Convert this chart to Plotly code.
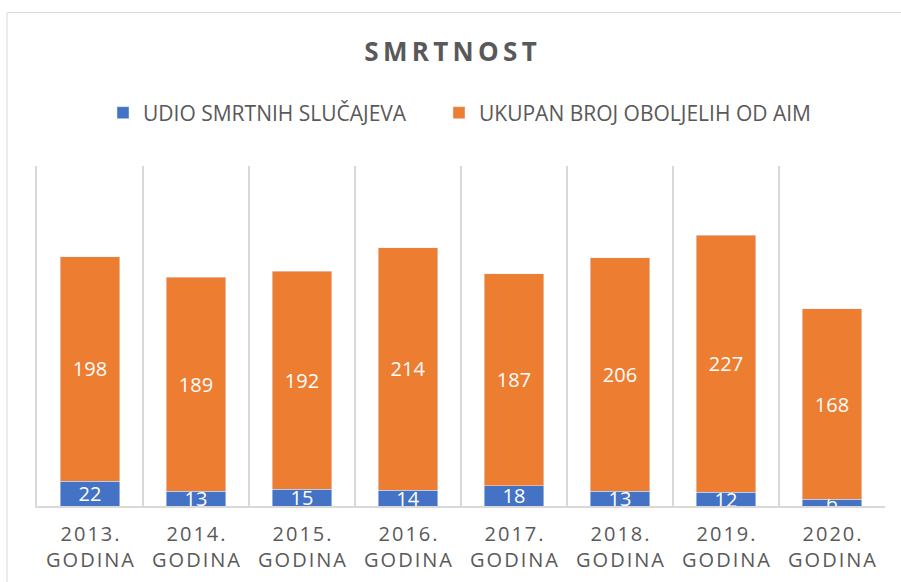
import plotly.graph_objects as go

years = ["2013.", "2014.", "2015.", "2016.", "2017.", "2018.", "2019.", "2020."]
suffix = "GODINA"
deaths = [22, 13, 15, 14, 18, 13, 12, 6]
total = [198, 189, 192, 214, 187, 206, 227, 168]
series_names = ["UDIO SMRTNIH SLUČAJEVA", "UKUPAN BROJ OBOLJELIH OD AIM"]
title_text = "SMRTNOST"

BLUE = "#4472C4"
ORANGE = "#ED7D31"
GRAY = "#595959"
GRID = "#D9D9D9"


def spaced(s, sep):
    return sep.join(list(s))


tick_sep = "\u200A"
ticktext = [spaced(y, tick_sep) + "<br>" + spaced(suffix, tick_sep) for y in years]

label_font = dict(color="white", size=20, family="Open Sans")

fig = go.Figure()
fig.add_trace(go.Bar(
    x=years, y=deaths, name=series_names[0], marker_color=BLUE,
    text=deaths, textposition="inside", insidetextanchor="middle",
    constraintext="none", cliponaxis=True, textangle=0,
    textfont=label_font, legend="legend",
))
fig.add_trace(go.Bar(
    x=years, y=total, name=series_names[1], marker_color=ORANGE,
    text=total, textposition="inside", insidetextanchor="middle",
    constraintext="none", cliponaxis=True, textangle=0,
    textfont=label_font, legend="legend2",
))

W = 848.0
leg_y = (506 - 113) / 340
fig.update_layout(
    width=901, height=582,
    barmode="stack", bargap=0.443,
    margin=dict(l=37, r=16, t=166, b=76, autoexpand=False),
    paper_bgcolor="white", plot_bgcolor="white",
    font=dict(family="Open Sans", color=GRAY),
    title=dict(text="<b>" + spaced(title_text, "\u2009") + "</b>",
               x=0.5, xanchor="center", y=1 - 52 / 582, yanchor="middle",
               font=dict(size=26, color=GRAY, family="Open Sans")),
    legend=dict(orientation="h", x=(103 - 37) / W, xanchor="left", y=leg_y,
                yanchor="middle", font=dict(size=21, color=GRAY),
                bgcolor="rgba(0,0,0,0)"),
    legend2=dict(orientation="h", x=(439 - 37) / W, xanchor="left", y=leg_y,
                 yanchor="middle", font=dict(size=21, color=GRAY),
                 bgcolor="rgba(0,0,0,0)"),
    showlegend=True,
    xaxis=dict(tickmode="array", tickvals=years, ticktext=ticktext,
               tickson="boundaries", ticks="", showgrid=True, gridcolor=GRID,
               gridwidth=1.5, showline=True, linecolor=GRID, linewidth=1.5,
               ticklabelstandoff=9, automargin=False,
               tickfont=dict(size=20, color=GRAY), fixedrange=True),
    yaxis=dict(range=[0, 300], showticklabels=False, ticks="", showgrid=False,
               zeroline=False, showline=True, linecolor=GRID, linewidth=1.5,
               automargin=False, fixedrange=True),
    shapes=[dict(type="rect", xref="paper", yref="paper",
                 x0=(7 - 37) / W, x1=(910 - 37) / W,
                 y0=(506 - 600) / 340, y1=(506 - 12.5) / 340,
                 line=dict(color=GRID, width=1), fillcolor="rgba(0,0,0,0)",
                 layer="below")],
)

fig.write_html("out.html", config={"displayModeBar": False},
               post_script="document.body.style.margin='0';")
